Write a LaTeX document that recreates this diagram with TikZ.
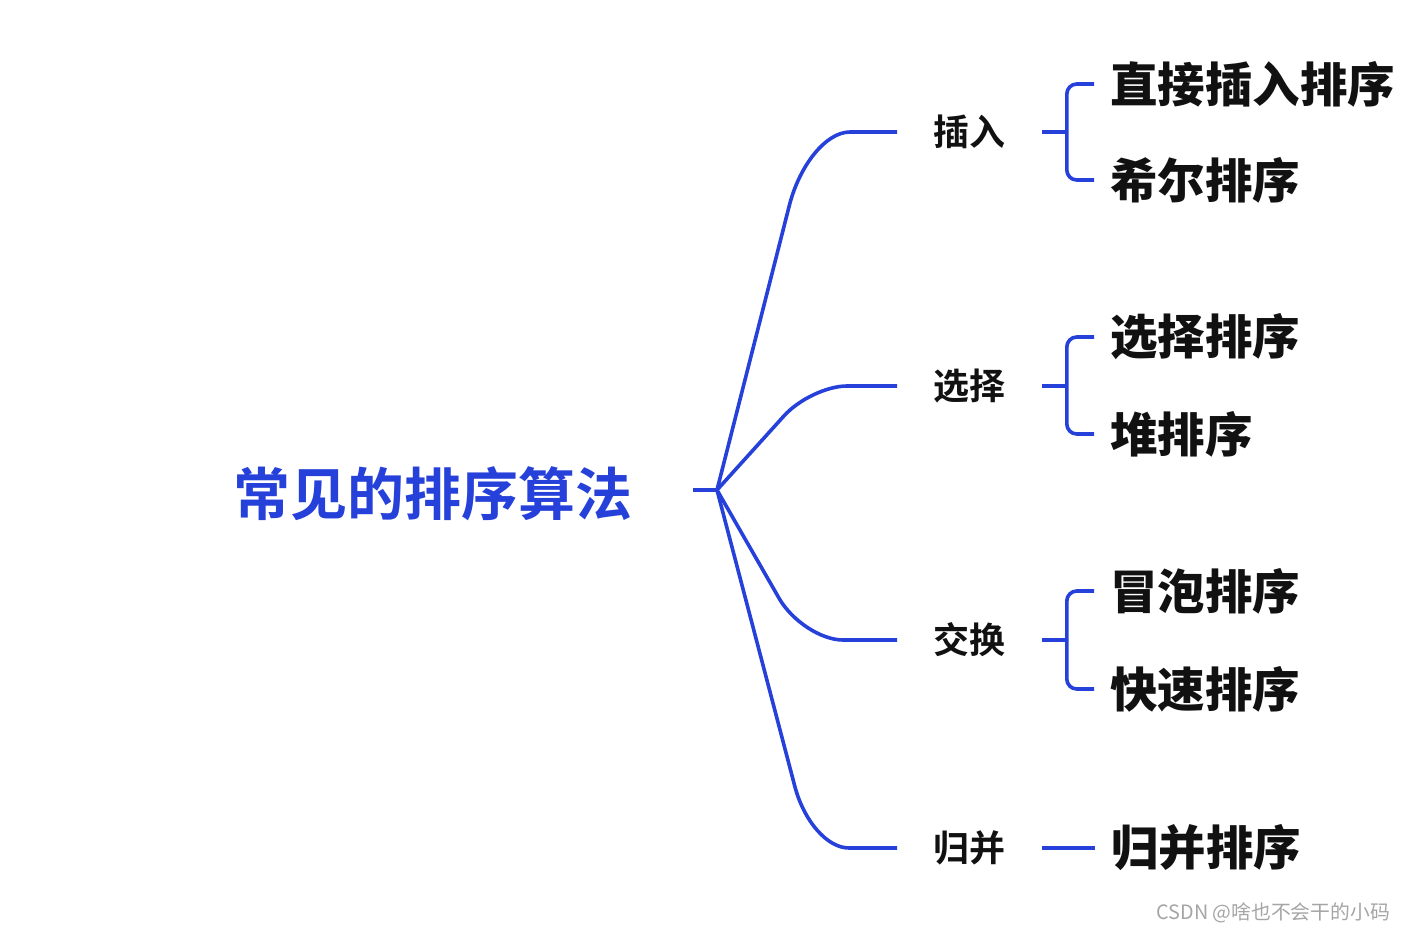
\documentclass[tikz,border=0pt]{standalone}
\usepackage{fontspec}
\usetikzlibrary{positioning,calc}
\newfontfamily\cjk{Noto Sans CJK SC}[BoldFont={Noto Sans CJK SC Bold}]
\newfontfamily\cjkheavy{Noto Sans CJK SC Black}
\definecolor{mapblue}{RGB}{38,64,218}
\definecolor{inkblack}{RGB}{17,17,17}
\definecolor{markgray}{RGB}{165,165,165}

\begin{document}
\begin{tikzpicture}[x=0.5pt,y=-0.5pt,
    link/.style={draw=mapblue,line width=1.8pt},
    topic/.style={font=\cjk\bfseries\fontsize{28.5pt}{30pt}\selectfont,text=mapblue,inner xsep=30pt,inner ysep=0pt},
    branch/.style={font=\cjk\bfseries\fontsize{18pt}{20pt}\selectfont,text=inkblack,inner xsep=18pt,inner ysep=0pt,anchor=west},
    leaf/.style={font=\cjkheavy\fontsize{23.75pt}{26pt}\selectfont,text=inkblack,inner xsep=8pt,inner ysep=0pt}]

      \useasboundingbox (0,0) rectangle (1408,932);

      \coordinate (hub) at (717,490);
      \node[topic, left=12pt of hub, yshift=-2pt] (root) {常见的排序算法};

      \node[branch] (ins) at (897,132) {插入};
      \node[branch] (sel) at (897,386) {选择};
      \node[branch] (swp) at (897,640) {交换};
      \node[branch] (mrg) at (897,848) {归并};

      \begin{scope}[every node/.style={leaf,anchor=west}]
        \node (ins1) at (1094,84)  {直接插入排序};
        \node (ins2) at (1094,180) {希尔排序};
        \node (sel1) at (1094,337) {选择排序};
        \node (sel2) at (1094,434) {堆排序};
        \node (swp1) at (1094,591) {冒泡排序};
        \node (swp2) at (1094,689) {快速排序};
      \end{scope}
      \node[leaf, right=26.5pt of mrg] (mrg1) {归并排序};

      % bends of the main branches
      \coordinate (insbend) at ([xshift=-44.5pt]ins.west);
      \coordinate (selbend) at ([xshift=-43pt]sel.west);
      \coordinate (swpbend) at ([xshift=-47pt]swp.west);
      \coordinate (mrgbend) at ([xshift=-43pt]mrg.west);

      % root to branches
      \draw[link] (root.east |- hub) -- (hub);
      \draw[link] (hub) -- ($(insbend)!38pt!(hub)$) .. controls ($(insbend)!17pt!(hub)$) and ([xshift=9pt]insbend) .. ([xshift=21pt]insbend) -- (ins.west);
      \draw[link] (hub) -- ($(selbend)!20pt!(hub)$) .. controls ($(selbend)!9pt!(hub)$) and ([xshift=8pt]selbend) .. ([xshift=18pt]selbend) -- (sel.west);
      \draw[link] (hub) -- ($(swpbend)!24pt!(hub)$) .. controls ($(swpbend)!11pt!(hub)$) and ([xshift=9pt]swpbend) .. ([xshift=20pt]swpbend) -- (swp.west);
      \draw[link] (hub) -- ($(mrgbend)!32pt!(hub)$) .. controls ($(mrgbend)!14pt!(hub)$) and ([xshift=8pt]mrgbend) .. ([xshift=19pt]mrgbend) -- (mrg.west);

      % brackets
      \coordinate (insfork) at ([xshift=12.5pt]ins.east);
      \coordinate (selfork) at ([xshift=12.5pt]sel.east);
      \coordinate (swpfork) at ([xshift=12.5pt]swp.east);
      \begin{scope}[every path/.style={link,rounded corners=5pt}]
        \draw (ins.east) -- (insfork);
        \draw (ins1.west) -| (insfork) |- (ins2.west);
        \draw (sel.east) -- (selfork);
        \draw (sel1.west) -| (selfork) |- (sel2.west);
        \draw (swp.east) -- (swpfork);
        \draw (swp1.west) -| (swpfork) |- (swp2.west);
        \draw (mrg) -- (mrg1);
      \end{scope}

      \node[font=\cjk\fontsize{9.9pt}{12pt}\selectfont, text=markgray, anchor=east] (mark) at (1397,913) {CSDN @啥也不会干的小码};

\end{tikzpicture}
\end{document}
